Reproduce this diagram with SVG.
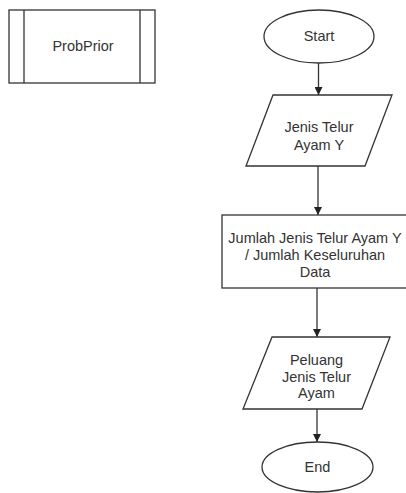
<svg xmlns="http://www.w3.org/2000/svg" width="406" height="493" viewBox="0 0 406 493">
<defs>
<marker id="arr" viewBox="0 0 10 10" refX="10" refY="5" markerWidth="8" markerHeight="8" markerUnits="userSpaceOnUse" orient="auto">
<path d="M0,0 L10,5 L0,10 Z" fill="#222"/>
</marker>
<style>
.s{fill:#fff;stroke:#333;stroke-width:1.3}
.t{font-family:"Liberation Sans",Arial,sans-serif;font-size:14.5px;fill:#333;text-anchor:middle}
.c{fill:none;stroke:#333;stroke-width:1.3;marker-end:url(#arr)}
</style>
</defs>
<rect width="406" height="493" fill="#fff"/>
<g id="probprior">
<rect class="s" x="9" y="10" width="146" height="73"/>
<line class="s" x1="24" y1="10" x2="24" y2="83"/>
<line class="s" x1="140" y1="10" x2="140" y2="83"/>
<text class="t" x="83" y="51">ProbPrior</text>
</g>
<g id="start">
<ellipse class="s" cx="319" cy="36.5" rx="55" ry="26.5"/>
<text class="t" x="319" y="41">Start</text>
</g>
<g id="input1">
<polygon class="s" points="273,95 392,95 365,166 246,166"/>
<text class="t" x="319" y="132">Jenis Telur</text>
<text class="t" x="319" y="150">Ayam Y</text>
</g>
<g id="process">
<rect class="s" x="222" y="215" width="192" height="73"/>
<text class="t" x="315" y="243">Jumlah Jenis Telur Ayam Y</text>
<text class="t" x="315" y="260">/ Jumlah Keseluruhan</text>
<text class="t" x="315" y="277">Data</text>
</g>
<g id="output">
<polygon class="s" points="272,337 390,337 362,409 243,409"/>
<text class="t" x="316.5" y="365">Peluang</text>
<text class="t" x="316.5" y="382">Jenis Telur</text>
<text class="t" x="316.5" y="398">Ayam</text>
</g>
<g id="end">
<ellipse class="s" cx="317.5" cy="467" rx="55.5" ry="25"/>
<text class="t" x="317.5" y="472">End</text>
</g>
<g id="connectors">
<line class="c" x1="318.5" y1="63" x2="318.5" y2="95"/>
<line class="c" x1="318" y1="166" x2="318" y2="215"/>
<line class="c" x1="317" y1="288" x2="317" y2="337"/>
<line class="c" x1="317" y1="409" x2="317" y2="442"/>
</g>
</svg>
